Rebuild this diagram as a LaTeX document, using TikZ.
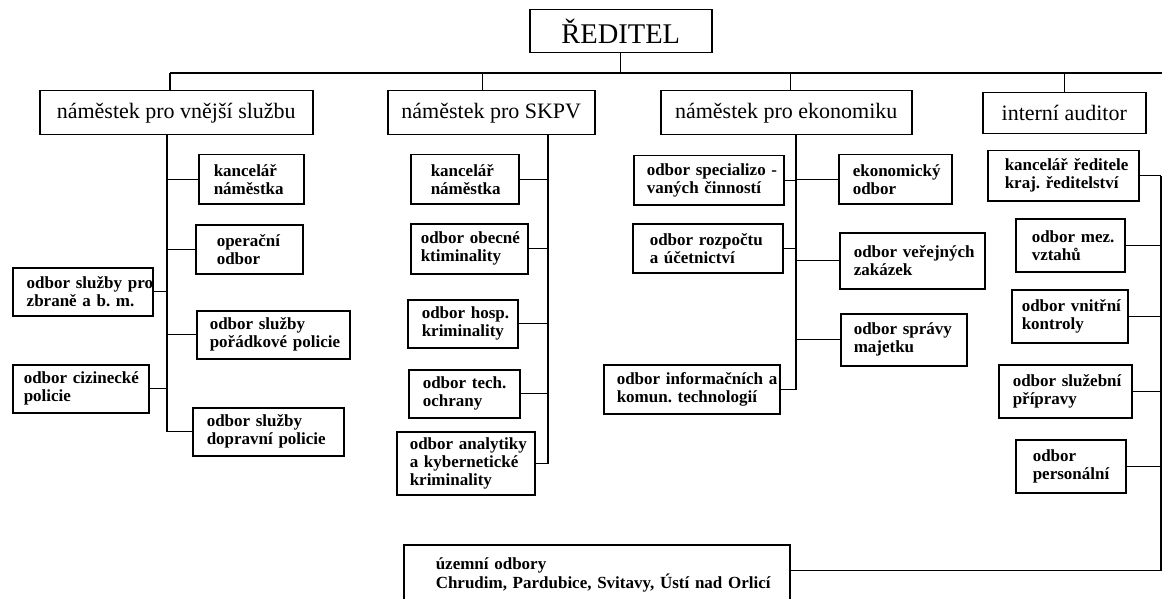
\documentclass[tikz,border=0pt]{standalone}
\usepackage{fontspec}
\setmainfont{Liberation Serif}
\usetikzlibrary{positioning}
\hyphenpenalty=10000
\exhyphenpenalty=10000
\frenchspacing

\tikzset{
  head/.style={draw,line width=1.5pt,anchor=north west,inner sep=0pt,
    font=\fontsize{22}{26}\selectfont},
  dept/.style={draw,line width=1.5pt,anchor=north west,align=left,inner ysep=0pt,
    font=\bfseries\fontsize{17}{18}\selectfont},
  link/.style={line width=1.2pt}
}

\begin{document}
\begin{tikzpicture}[x=1pt,y=-1pt]
        \useasboundingbox (0,0) rectangle (1162,599);

        % Top
        \node[head,minimum width=182,minimum height=43,font=\fontsize{28.5}{30}\selectfont] (red) at (529,9) {ŘEDITEL};
        \node[head,minimum width=273,minimum height=44] (vs) at (39,90) {náměstek pro vnější službu};
        \node[head,minimum width=207,minimum height=44] (skpv) at (387,90) {náměstek pro SKPV};
        \node[head,minimum width=251,minimum height=44] (eko) at (660,90) {náměstek pro ekonomiku};
        \node[head,minimum width=163,minimum height=41] (aud) at (982,92) {interní auditor};

        % Vnejsi sluzba
        \node[dept,minimum height=49,text width=75,inner xsep=15] (kn1) at (198,154) {kancelář\\náměstka};
        \node[dept,minimum height=49,text width=65,inner xsep=21] (op) at (195,224) {operační\\odbor};
        \node[dept,minimum height=48,text width=112,inner xsep=14] (zbr) at (12,267) {odbor~služby~pro\\zbraně~a~b.~m.};
        \node[dept,minimum height=48,text width=127,inner xsep=13] (por) at (196,310) {odbor~služby\\pořádkové~policie};
        \node[dept,minimum height=48,text width=114,inner xsep=11] (ciz) at (12,364) {odbor~cizinecké\\policie};
        \node[dept,minimum height=48,text width=123,inner xsep=14] (dop) at (192,407) {odbor~služby\\dopravní~policie};

        % SKPV
        \node[dept,minimum height=49,text width=68,inner xsep=20] (kn2) at (410,154) {kancelář\\náměstka};
        \node[dept,minimum height=50,text width=97,inner xsep=10] (obe) at (410,223) {odbor~obecné\\ktiminality};
        \node[dept,minimum height=48,text width=82,inner xsep=14] (hos) at (407,299) {odbor~hosp.\\kriminality};
        \node[dept,minimum height=48,text width=83,inner xsep=14] (tec) at (408,369) {odbor~tech.\\ochrany};
        \node[dept,minimum height=63,text width=112,inner xsep=13] (ana) at (396,431) {odbor~analytiky\\a~kybernetické\\kriminality};

        % Ekonomika
        \node[dept,minimum height=49,text width=124,inner xsep=13] (spe) at (633,155) {odbor~specializo~-\\vaných~činností};
        \node[dept,minimum height=49,text width=116,inner xsep=17] (roz) at (632,223) {odbor~rozpočtu\\a~účetnictví};
        \node[dept,minimum height=49,text width=85,inner xsep=14] (ekon) at (838,154) {ekonomický\\odbor};
        \node[dept,minimum height=56,text width=117,inner xsep=14] (zak) at (839,232) {odbor~veřejných\\zakázek};
        \node[dept,minimum height=52,text width=100,inner xsep=13] (spr) at (840,313) {odbor~správy\\majetku};
        \node[dept,minimum height=49,text width=150,inner xsep=13] (inf) at (603,364) {odbor~informačních~a\\komun.~technologií};

        % Auditor
        \node[dept,minimum height=50,text width=117,inner xsep=17] (kr) at (987,150) {kancelář~ředitele\\kraj.~ředitelství};
        \node[dept,minimum height=53,text width=77,inner xsep=16] (mez) at (1015,218) {odbor~mez.\\vztahů};
        \node[dept,minimum height=53,text width=96,inner xsep=10] (vni) at (1011,289) {odbor~vnitřní\\kontroly};
        \node[dept,minimum height=53,text width=105,inner xsep=14] (slu) at (998,364) {odbor~služební\\přípravy};
        \node[dept,minimum height=53,text width=76,inner xsep=17] (per) at (1015,439) {odbor\\personální};
        \node[dept,minimum height=60,text width=322,inner xsep=32] (uz) at (403,544) {územní~odbory\\Chrudim,~Pardubice,~Svitavy,~Ústí~nad~Orlicí};

        % Bus and spines
        \coordinate (busL) at (170,73);
        \coordinate (busR) at (1162,73);
        \coordinate (vsX) at (167,0);
        \coordinate (skX) at (548,0);
        \coordinate (ekX) at (796,0);
        \coordinate (rX) at (1161,0);

        \draw[link] (red.south) -- (red.south |- busL)
              (busL) -- (busR)
              (busL) -- (busL |- vs.north)
              ([xshift=-8.5]skpv.north |- busL) -- ([xshift=-8.5]skpv.north)
              ([xshift=4.5]eko.north |- busL) -- ([xshift=4.5]eko.north)
              (aud.north |- busL) -- (aud.north);

        \draw[link] (vs.south -| vsX) -- (dop.west -| vsX) -- (dop.west)
              (kn1.west) -- (kn1.west -| vsX)
              (op.west) -- (op.west -| vsX)
              (por.west) -- (por.west -| vsX)
              (zbr.east) -- (zbr.east -| vsX)
              (ciz.east) -- (ciz.east -| vsX);

        \draw[link] (skpv.south -| skX) -- (ana.east -| skX) -- (ana.east)
              (kn2.east) -- (kn2.east -| skX)
              (obe.east) -- (obe.east -| skX)
              (hos.east) -- (hos.east -| skX)
              (tec.east) -- (tec.east -| skX);

        \draw[link] (eko.south -| ekX) -- (inf.east -| ekX) -- (inf.east)
              (spe.east) -- (spe.east -| ekX)
              (roz.east) -- (roz.east -| ekX)
              (ekon.west) -- (ekon.west -| ekX)
              (zak.west) -- (zak.west -| ekX)
              (spr.west) -- (spr.west -| ekX);

        \draw[link] ([yshift=4]uz.east) -- ([yshift=4]uz.east -| rX) -- (kr.east -| rX)
              (kr.east) -- (kr.east -| rX)
              (mez.east) -- (mez.east -| rX)
              (vni.east) -- (vni.east -| rX)
              (slu.east) -- (slu.east -| rX)
              (per.east) -- (per.east -| rX);

    \end{tikzpicture}
\end{document}
